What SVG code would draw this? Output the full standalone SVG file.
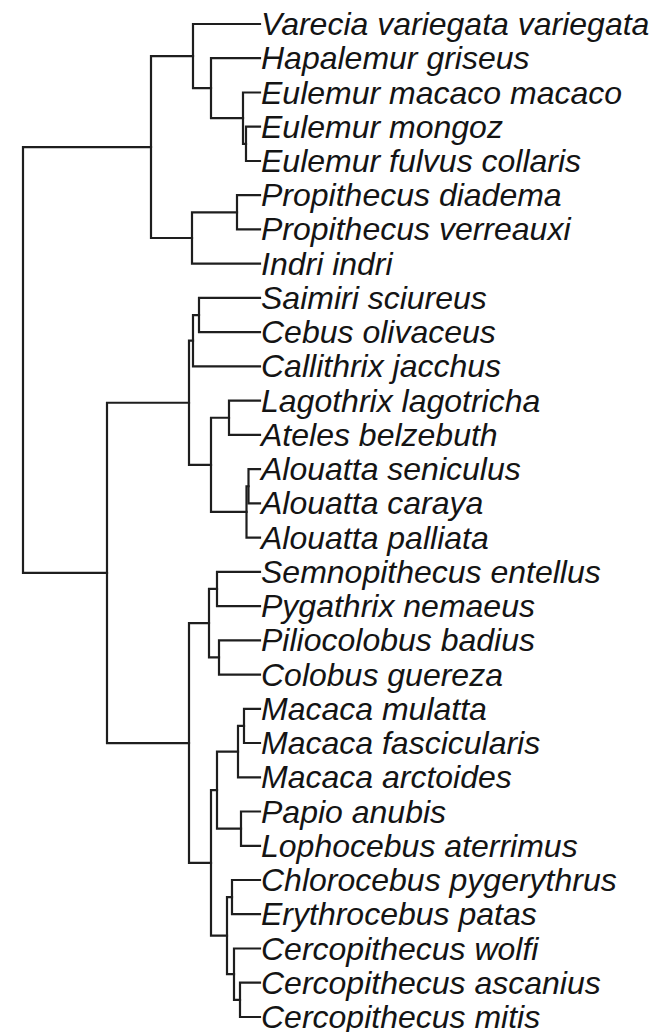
<svg xmlns="http://www.w3.org/2000/svg" width="669" height="1032" viewBox="0 0 669 1032">
<style>
.e{fill:none;stroke:#1e1e1e;stroke-width:2.2;stroke-linecap:square;stroke-linejoin:miter}
.t{font-family:"Liberation Sans",Arial,sans-serif;font-style:italic;font-size:32px;fill:#141414}
</style>
<rect width="669" height="1032" fill="#fff"/>
<g id="connectors">
<path class="e" d="M260 126.7H246V161H260"/>
<path class="e" d="M260 92.5H243V143.85H246"/>
<path class="e" d="M260 58.2H211V118.2H243"/>
<path class="e" d="M260 24H193V88.2H211"/>
<path class="e" d="M260 195.2H237V229.4H260"/>
<path class="e" d="M237 212.3H192V263.7H260"/>
<path class="e" d="M193 56.1H151V238H192"/>
<path class="e" d="M260 297.9H199V332.2H260"/>
<path class="e" d="M199 315.05H193V366.4H260"/>
<path class="e" d="M260 400.6H229V434.9H260"/>
<path class="e" d="M260 469.1H248.5V503.4H260"/>
<path class="e" d="M248.5 486.25H246.5V537.6H260"/>
<path class="e" d="M229 417.75H211V511.9H246.5"/>
<path class="e" d="M193 340.7H189V464.8H211"/>
<path class="e" d="M260 571.8H217V606.1H260"/>
<path class="e" d="M260 640.3H219V674.6H260"/>
<path class="e" d="M217 588.95H209V657.45H219"/>
<path class="e" d="M260 708.8H244V743H260"/>
<path class="e" d="M244 725.9H238V777.3H260"/>
<path class="e" d="M260 811.5H241V845.8H260"/>
<path class="e" d="M238 751.6H217V828.65H241"/>
<path class="e" d="M260 880H232V914.2H260"/>
<path class="e" d="M260 982.7H240V1017H260"/>
<path class="e" d="M260 948.5H234V999.85H240"/>
<path class="e" d="M232 897.1H227V974.2H234"/>
<path class="e" d="M217 790.1H211V935.65H227"/>
<path class="e" d="M209 623.2H189V862.9H211"/>
<path class="e" d="M189 402.75H107V743.05H189"/>
<path class="e" d="M151 147.05H23V572.9H107"/>
</g>
<g id="leaf-varecia"><text class="t" x="261" y="35">Varecia variegata variegata</text></g>
<g id="leaf-hapalemur"><text class="t" x="261" y="69.2">Hapalemur griseus</text></g>
<g id="leaf-eulemur-macaco"><text class="t" x="261" y="103.5">Eulemur macaco macaco</text></g>
<g id="leaf-eulemur-mongoz"><text class="t" x="261" y="137.7">Eulemur mongoz</text></g>
<g id="leaf-eulemur-fulvus"><text class="t" x="261" y="172">Eulemur fulvus collaris</text></g>
<g id="leaf-propithecus-diadema"><text class="t" x="261" y="206.2">Propithecus diadema</text></g>
<g id="leaf-propithecus-verreauxi"><text class="t" x="261" y="240.4">Propithecus verreauxi</text></g>
<g id="leaf-indri"><text class="t" x="261" y="274.7">Indri indri</text></g>
<g id="leaf-saimiri"><text class="t" x="261" y="308.9">Saimiri sciureus</text></g>
<g id="leaf-cebus"><text class="t" x="261" y="343.2">Cebus olivaceus</text></g>
<g id="leaf-callithrix"><text class="t" x="261" y="377.4">Callithrix jacchus</text></g>
<g id="leaf-lagothrix"><text class="t" x="261" y="411.6">Lagothrix lagotricha</text></g>
<g id="leaf-ateles"><text class="t" x="261" y="445.9">Ateles belzebuth</text></g>
<g id="leaf-alouatta-seniculus"><text class="t" x="261" y="480.1">Alouatta seniculus</text></g>
<g id="leaf-alouatta-caraya"><text class="t" x="261" y="514.4">Alouatta caraya</text></g>
<g id="leaf-alouatta-palliata"><text class="t" x="261" y="548.6">Alouatta palliata</text></g>
<g id="leaf-semnopithecus"><text class="t" x="261" y="582.8">Semnopithecus entellus</text></g>
<g id="leaf-pygathrix"><text class="t" x="261" y="617.1">Pygathrix nemaeus</text></g>
<g id="leaf-piliocolobus"><text class="t" x="261" y="651.3">Piliocolobus badius</text></g>
<g id="leaf-colobus"><text class="t" x="261" y="685.6">Colobus guereza</text></g>
<g id="leaf-macaca-mulatta"><text class="t" x="261" y="719.8">Macaca mulatta</text></g>
<g id="leaf-macaca-fascicularis"><text class="t" x="261" y="754">Macaca fascicularis</text></g>
<g id="leaf-macaca-arctoides"><text class="t" x="261" y="788.3">Macaca arctoides</text></g>
<g id="leaf-papio"><text class="t" x="261" y="822.5">Papio anubis</text></g>
<g id="leaf-lophocebus"><text class="t" x="261" y="856.8">Lophocebus aterrimus</text></g>
<g id="leaf-chlorocebus"><text class="t" x="261" y="891">Chlorocebus pygerythrus</text></g>
<g id="leaf-erythrocebus"><text class="t" x="261" y="925.2">Erythrocebus patas</text></g>
<g id="leaf-cercopithecus-wolfi"><text class="t" x="261" y="959.5">Cercopithecus wolfi</text></g>
<g id="leaf-cercopithecus-ascanius"><text class="t" x="261" y="993.7">Cercopithecus ascanius</text></g>
<g id="leaf-cercopithecus-mitis"><text class="t" x="261" y="1028">Cercopithecus mitis</text></g>
</svg>
